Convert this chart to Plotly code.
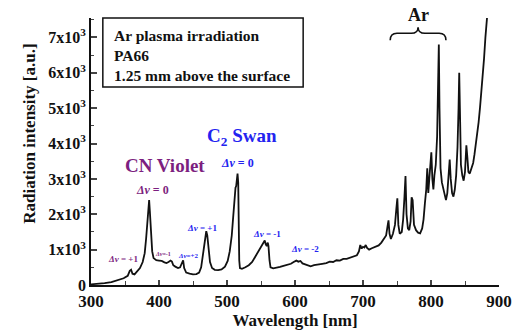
import plotly.graph_objects as go

wavelength = [300, 310, 320, 330, 340, 348, 354, 357, 359, 361, 364, 368, 372, 376, 379, 381, 383, 384.5, 385.5, 386.5,
              388, 390, 392, 396, 400, 404, 408, 411, 414, 417, 419, 421, 424, 428, 431, 434, 435.5, 437, 440, 445,
              450, 455, 459, 462, 464, 466, 468, 469.5, 471, 473, 475, 478, 482, 487, 492, 497, 501, 504, 507, 509,
              511, 512.5, 513.5, 514.5, 515.5, 516.5, 517.2, 518, 519, 522, 527, 532, 537, 541, 545, 549, 552, 554,
              555.5, 557, 558.5, 560, 561, 562.5, 564, 568, 573, 578, 583, 589, 594, 598, 602, 605, 608, 611, 615,
              619, 623, 628, 634, 640, 646, 651, 656, 661, 666, 671, 676, 681, 686, 691, 694, 696, 698, 700, 702,
              704, 706, 709, 713, 718, 723, 727, 731, 734, 736, 737.5, 739, 741, 744, 747, 749, 750.5, 752, 754,
              757, 759, 761, 762.5, 764, 766, 768, 770, 771.5, 773, 775, 778, 781, 784, 787, 789, 791, 793, 794.5,
              796, 797.5, 799, 800.5, 802, 803.5, 805, 807, 809, 810.5, 811.5, 812.5, 814, 816, 818, 820, 822, 824,
              826, 827.5, 829, 831, 833, 835, 837, 839, 840.5, 841.5, 842.5, 844, 846, 848, 850, 852, 853.5, 855,
              857, 859, 862, 864, 866, 868, 870, 872, 874, 876, 878, 880, 882, 883]
intensity = [20, 30, 50, 80, 130, 190, 260, 400, 430, 320, 300, 380, 480, 650, 900, 1300, 1900, 2350, 2400, 2100,
             1400, 950, 760, 700, 690, 680, 640, 620, 650, 690, 660, 560, 520, 480, 500, 640, 700, 480, 350, 320,
             300, 310, 350, 500, 800, 1150, 1450, 1520, 1400, 1000, 650, 480, 430, 420, 440, 520, 680, 950, 1400, 1900,
             2500, 2750, 2800, 3000, 3150, 2900, 1500, 700, 480, 460, 500, 560, 650, 780, 900, 1020, 1120, 1200,
             1260, 1150, 1100, 1200, 1100, 700, 500, 470, 480, 510, 540, 570, 600, 650, 690, 660, 680, 610, 580,
             550, 530, 560, 570, 600, 620, 660, 650, 700, 690, 740, 740, 770, 790, 840, 950, 1130, 1030, 1080, 1060,
             1130, 1050, 1000, 1040, 1080, 1120, 1200, 1300, 1400, 1650, 1830, 1450, 1300, 1450, 1700, 2150, 2450, 1700, 1450,
             1500, 1850, 2500, 3080, 2000, 1600, 1550, 1800, 2480, 2400, 1700, 1550, 1480, 1460, 1600, 1850, 2300, 2700, 3300,
             2600, 3000, 3550, 3750, 3000, 2700, 3100, 3400, 4200, 5600, 6800, 5000, 3300, 2900, 2700, 2500, 2400, 2600,
             3100, 3550, 3000, 2600, 2500, 2700, 3100, 3900, 5000, 6000, 5000, 3400, 3100, 2950, 3200, 3950, 3600, 3200,
             3150, 3300, 3450, 3700, 4000, 4200, 4600, 5000, 5400, 5900, 6400, 7000, 7500, 7700]

x_ticks = [300, 400, 500, 600, 700, 800, 900]
y_ticks = [0, 1000, 2000, 3000, 4000, 5000, 6000, 7000]
y_ticktext = ["0"] + [f"{i}x10<sup>3</sup>" for i in range(1, 8)]

PURPLE = "#7d1f80"
BLUE = "#2323f0"
FONT = "Liberation Serif, Times New Roman, serif"

fig = go.Figure()
fig.add_trace(go.Scatter(x=wavelength, y=intensity, mode="lines",
                         line=dict(color="#111111", width=1.8), showlegend=False))

ann = []
def t(x, y, s, color, size, xref="x", yref="y", yanchor="middle", textangle=0):
    ann.append(dict(x=x, y=y, xref=xref, yref=yref, text=s, showarrow=False, yanchor=yanchor,
                    textangle=textangle, font=dict(family=FONT, size=size, color=color)))

t(409, 3390, "<b>CN Violet</b>", PURPLE, 19)
t(391, 2680, "<b><i>Δv</i> = 0</b>", PURPLE, 12)
t(522, 4180, "<b>C<sub>2</sub> Swan</b>", BLUE, 19)
t(515, 3450, "<b><i>Δv</i> = 0</b>", BLUE, 12)
t(347, 730, "<b><i>Δv</i> = +1</b>", PURPLE, 9)
t(406, 870, "<b><i>Δv</i>=-1</b>", PURPLE, 6)
t(443, 820, "<b><i>Δv</i>=+2</b>", BLUE, 7)
t(463, 1610, "<b><i>Δv</i> = +1</b>", BLUE, 9)
t(559, 1440, "<b><i>Δv</i> = -1</b>", BLUE, 9)
t(615, 1010, "<b><i>Δv</i> = -2</b>", BLUE, 9)
t(781, 1.01, "<b>Ar</b>", "#111111", 18, yref="paper")
t(-0.181, 0.565, "<b>Radiation intensity [a.u.]</b>", "#111111", 17, xref="paper", yref="paper", textangle=-90)

ann.append(dict(x=0.051, y=0.975, xref="paper", yref="paper", xanchor="left", yanchor="top",
                align="left", showarrow=False,
                text="<b>Ar plasma irradiation<br>PA66<br>1.25 mm above the surface</b>",
                font=dict(family=FONT, size=15.5, color="#111111")))

shapes = [
    dict(type="rect", xref="paper", yref="paper", x0=0.029, x1=0.52, y0=0.742, y1=1.0,
         line=dict(color="#111111", width=1.5), fillcolor="white"),
    dict(type="path", xref="x", yref="y",
         path="M 740,6920 Q 740,7120 750,7120 L 771,7120 Q 781,7120 781,7290 "
              "Q 781,7120 791,7120 L 812,7120 Q 822,7120 822,6920",
         line=dict(color="#111111", width=1.6)),
]

fig.update_layout(
    width=517, height=333,
    margin=dict(l=91, r=18, t=18, b=48, autoexpand=False),
    paper_bgcolor="white", plot_bgcolor="white",
    annotations=ann, shapes=shapes,
    font=dict(family=FONT, color="#111111"),
    xaxis=dict(range=[300, 900], tickvals=x_ticks, ticktext=[f"<b>{v}</b>" for v in x_ticks],
               ticks="inside", ticklen=5, tickwidth=1.5, automargin=False,
               minor=dict(dtick=50, ticks="inside", ticklen=4, tickwidth=1.2),
               showline=True, linecolor="#111111", linewidth=1.8, showgrid=False, zeroline=False,
               tickfont=dict(family=FONT, size=17, color="#111111"),
               title=dict(text="<b>Wavelength [nm]</b>", font=dict(family=FONT, size=17), standoff=2)),
    yaxis=dict(range=[0, 7550], tickvals=y_ticks, ticktext=[f"<b>{s}</b>" for s in y_ticktext],
               ticks="inside", ticklen=6, tickwidth=1.5, automargin=False,
               minor=dict(tick0=0, dtick=500, ticks="inside", ticklen=3, tickwidth=1.2),
               showline=True, linecolor="#111111", linewidth=1.8, showgrid=False, zeroline=False,
               tickfont=dict(family=FONT, size=16, color="#111111")),
)

fig.write_html("out.html")
